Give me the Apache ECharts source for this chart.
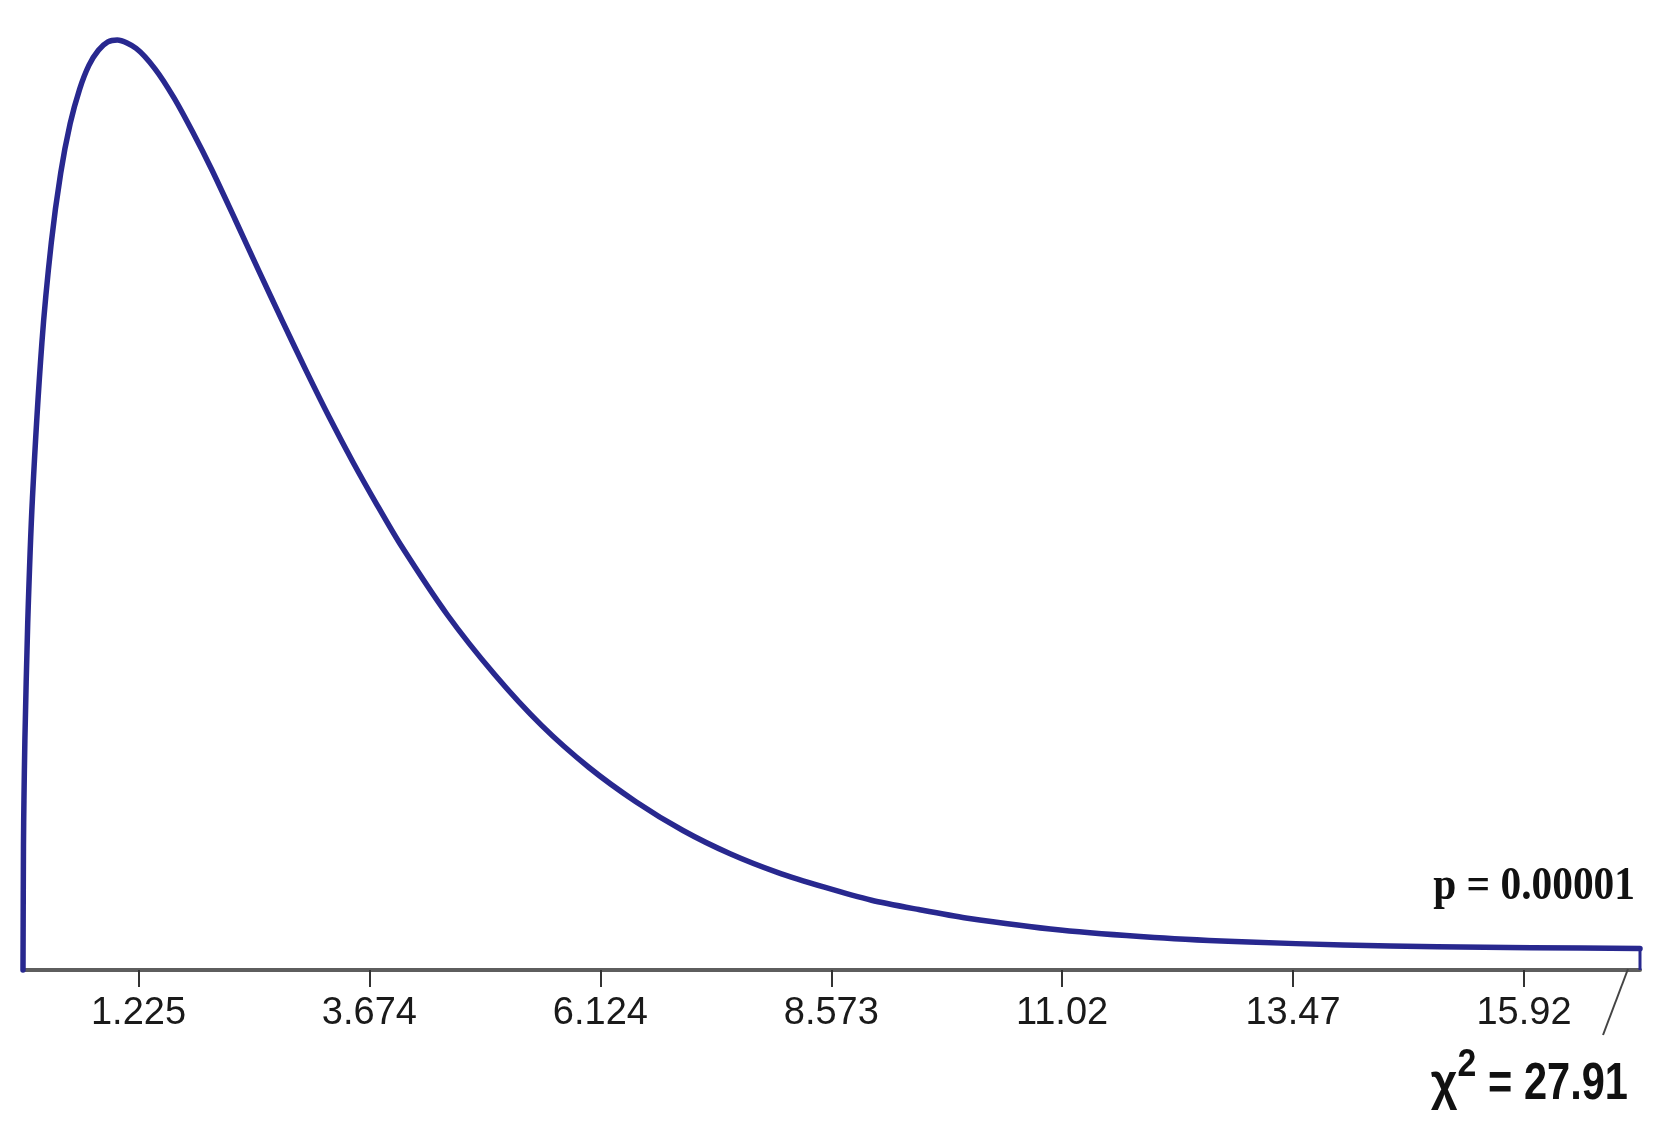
<!DOCTYPE html>
<html>
<head>
<meta charset="utf-8">
<script src="https://cdn.jsdelivr.net/npm/echarts@6/dist/echarts.min.js"></script>
<style>
  html, body { margin: 0; padding: 0; background: #fff; }
  #chart { width: 1678px; height: 1143px; }
</style>
</head>
<body>
<div id="chart"></div>
<script>
  // chi-square curve, heights (1 = peak height)
  var xValues = [0, 0.005, 0.01, 0.02, 0.05, 0.1, 0.2, 0.3, 0.4, 0.5, 0.6, 0.7, 0.8, 0.9, 1.0,
    1.2, 1.4, 1.6, 1.8, 2.0, 2.25, 2.5, 2.75, 3.0, 3.25, 3.5, 3.75, 4.0, 4.5, 5.0, 5.5, 6.0,
    6.5, 7.0, 7.5, 8.0, 8.5, 9.0, 9.5, 10, 11, 12, 13, 14, 15, 16, 17.15];
  var densityValues = [0, 0.135, 0.182, 0.247, 0.373, 0.507, 0.674, 0.782, 0.857, 0.910, 0.947, 0.973, 0.989, 0.998, 1.000,
    0.991, 0.969, 0.938, 0.901, 0.861, 0.807, 0.752, 0.698, 0.645, 0.594, 0.546, 0.501, 0.458, 0.382, 0.318, 0.263, 0.218,
    0.181, 0.150, 0.125, 0.105, 0.089, 0.075, 0.065, 0.056, 0.043, 0.035, 0.030, 0.027, 0.025, 0.024, 0.023];

  var tickValues = [1.225, 3.674, 6.124, 8.573, 11.02, 13.47, 15.92];
  var tickLabels = ['1.225', '3.674', '6.124', '8.573', '11.02', '13.47', '15.92'];

  var statValue = 27.91;
  var pValue = '0.00001';
  var axisMax = 17.15;

  var curve = [];
  for (var i = 0; i < xValues.length; i++) {
    curve.push([xValues[i], densityValues[i]]);
  }
  // closing drop at the right end of the curve
  var last = curve[curve.length - 1];
  var rightDrop = [last, [last[0], 0]];

  var chart = echarts.init(document.getElementById('chart'));

  var lineColor = '#28288f';

  var option = {
    animation: false,
    backgroundColor: '#ffffff',
    grid: {
      left: 23,
      right: 38,
      top: 40,
      bottom: 173
    },
    xAxis: {
      type: 'value',
      min: 0,
      max: axisMax,
      splitLine: { show: false },
      axisLine: {
        show: true,
        lineStyle: { color: '#5e5e5e', width: 4 }
      },
      axisTick: {
        show: true,
        customValues: tickValues,
        length: 17,
        lineStyle: { color: '#333333', width: 2 }
      },
      axisLabel: {
        show: true,
        customValues: tickValues,
        margin: 25,
        fontSize: 38,
        color: '#1a1a1a',
        fontFamily: 'Liberation Sans, Arial, sans-serif',
        formatter: function (val) {
          for (var k = 0; k < tickValues.length; k++) {
            if (Math.abs(tickValues[k] - val) < 1e-6) return tickLabels[k];
          }
          return '';
        }
      }
    },
    yAxis: {
      type: 'value',
      min: 0,
      max: 1,
      show: false
    },
    series: [{
      type: 'line',
      data: curve,
      showSymbol: false,
      symbol: 'none',
      smooth: 0.25,
      clip: false,
      z: 3,
      lineStyle: {
        color: lineColor,
        width: 5.5,
        join: 'round',
        cap: 'round'
      }
    }, {
      type: 'line',
      data: rightDrop,
      showSymbol: false,
      symbol: 'none',
      clip: false,
      z: 3,
      lineStyle: {
        color: lineColor,
        width: 3
      }
    }],
    graphic: {
      elements: [
        {
          // pointer from axis end down to the statistic label
          type: 'polyline',
          shape: { points: [[1628, 969], [1603, 1035]] },
          style: { stroke: '#444444', lineWidth: 2, fill: null },
          z: 100
        },
        {
          type: 'text',
          x: 1635,
          y: 887,
          scaleX: 0.9,
          style: {
            text: 'p = ' + pValue,
            font: 'bold 46px "Liberation Serif", "Times New Roman", serif',
            fill: '#111111',
            textAlign: 'right',
            textVerticalAlign: 'middle'
          }
        },
        {
          type: 'text',
          x: 1628,
          y: 1085,
          scaleX: 0.8,
          style: {
            text: '= ' + statValue.toFixed(2),
            font: 'bold 52px "Liberation Sans", Arial, sans-serif',
            fill: '#111111',
            textAlign: 'right',
            textVerticalAlign: 'middle'
          }
        },
        {
          type: 'text',
          x: 1467,
          y: 1066,
          scaleX: 0.89,
          style: {
            text: '2',
            font: 'bold 38px "Liberation Sans", Arial, sans-serif',
            fill: '#111111',
            textAlign: 'center',
            textVerticalAlign: 'middle'
          }
        },
        {
          type: 'text',
          x: 1444,
          y: 1085,
          scaleX: 0.89,
          style: {
            text: 'χ',
            font: 'bold 52px "Liberation Sans", Arial, sans-serif',
            fill: '#111111',
            textAlign: 'center',
            textVerticalAlign: 'middle'
          }
        }
      ]
    }
  };

  chart.setOption(option);
</script>
</body>
</html>
